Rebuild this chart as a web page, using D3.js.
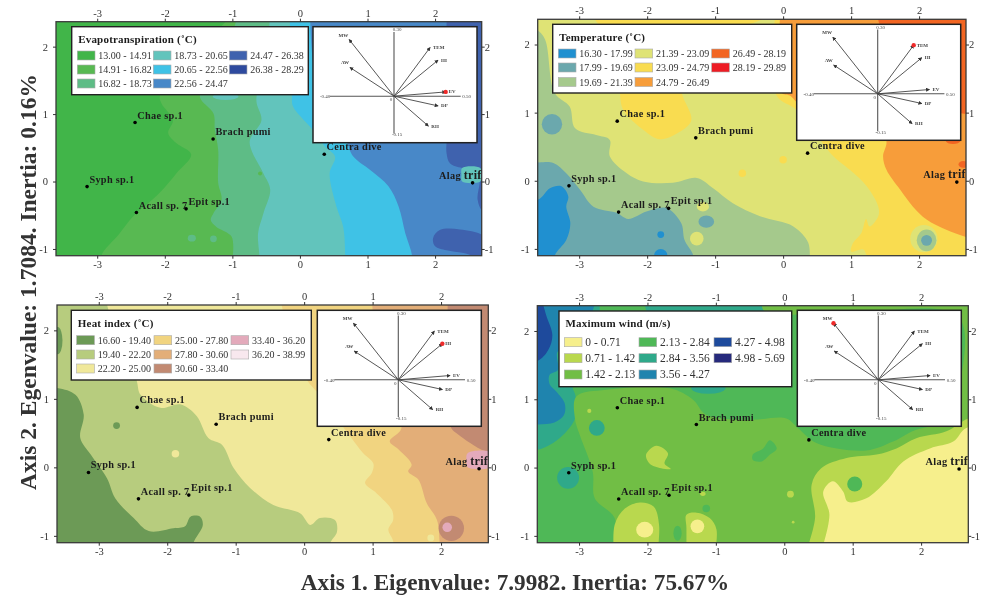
<!DOCTYPE html>
<html><head><meta charset="utf-8">
<script src="https://cdn.jsdelivr.net/npm/d3@7/dist/d3.min.js"></script>
<style>
html,body{margin:0;padding:0;background:#fff}
svg{display:block;filter:blur(.3px)}
text{font-family:"Liberation Serif",serif}
</style></head><body>
<svg id="c" width="981" height="596"></svg>
<script>
// ---------- shared data ----------
const xTicks = [-3,-2,-1,0,1,2];
const yTicks = [-1,0,1,2];
const xExtent = [-3.61,2.69];
const yExtent = [-1.1,2.37];
const speciesNames = ["Chae sp.1","Brach pumi","Centra dive","Syph sp.1","Acall sp. 7","Epit sp.1","Alag trif"];
const speciesAxis1 = [-2.44,-1.285,0.36,-3.15,-2.42,-1.685,2.555];
const speciesAxis2 = [0.875,0.63,0.405,-0.075,-0.46,-0.405,-0.02];
const vectorNames = ["MW","AW","TEM","HI","EV","DP","RH"];
const vectorAxis1 = [-0.28,-0.275,0.27,0.33,0.3875,0.33,0.2575];
const vectorAxis2 = [0.264,0.134,0.227,0.168,0.02,-0.039,-0.12];

// ---------- evapotranspiration ----------
const evapClasses = ["13.00 - 14.91","14.91 - 16.82","16.82 - 18.73","18.73 - 20.65","20.65 - 22.56","22.56 - 24.47","24.47 - 26.38","26.38 - 28.29"];
const evapColors = ["#41b549","#58b952","#5ebc86","#62c4bc","#3fc2e6","#4888c8","#3f62ae","#2e4a9e"];
const evapRegions = [
 [1,[[-2.94,-1.3],[-2.94,-1.1],[-2.67,-.77],[-2.47,-.52],[-2.08,-.17],[-1.83,.12],[-1.61,.4],[-1.83,.57],[-1.95,.72],[-1.88,.91],[-2.05,1.16],[-2.07,1.28],[-1.5,1.95],[-.97,2.5],[3.2,2.6],[3.2,-1.3]]],
 [2,[[-1,-1.3],[-1,-1.16],[-1.01,-.82],[-1.24,-.67],[-1.32,-.57],[-1.28,-.47],[-1.16,-.27],[-1.21,-.02],[-1.21,.47],[-1.26,.77],[-1.28,1.01],[-1.46,1.21],[-1.48,1.28],[-1.09,1.95],[-.91,2.5],[3.2,2.6],[3.2,-1.3]]],
 [3,[[-.6,-1.3],[-.6,-1.1],[-.62,-.77],[-.54,-.47],[-.44,-.12],[-.54,.12],[-.72,.47],[-.74,.62],[-.57,.91],[-.64,1.16],[-.64,1.28],[-.49,1.95],[-.44,2.5],[3.2,2.6],[3.2,-1.3]]],
 [4,[[.67,-1.3],[.67,-1.1],[.64,-.67],[.54,-.37],[.44,.12],[.52,.37],[.37,.52],[.17,.79],[-.1,1.11],[-.12,1.28],[-.14,1.9],[-.15,2.5],[3.2,2.6],[3.2,-1.3]]],
 [5,[[1.66,-1.3],[1.66,-1.1],[1.56,-.77],[1.46,-.37],[1.31,-.07],[1.04,.17],[.79,.37],[.69,.59],[.25,1.46],[.15,2.5],[3.2,2.6],[3.2,-1.3]]],
 [6,[[2.17,2.6],[2.17,.62],[2.17,.42],[2.22,.27],[2.4,.2],[2.66,.19],[2.66,-.02],[2.63,-.27],[2.72,-.45],[3.2,-.45],[3.2,2.6]]],
 [6,[[1.97,-.84],[2.07,-.72],[2.37,-.71],[2.72,-.81],[2.74,-.95],[2.72,-1.12],[2.42,-1.06],[2.17,-1.02],[2,-.96]]],
 [3,[[2.4,.2],[2.67,.2],[2.68,.1],[2.67,0],[2.4,0],[2.39,.1]]]
];
const evapSpots = [[3,-1.1,1.26,.19,.05],[1,-.59,.12,.03,.03],[2,-1.6,-.84,.06,.05],[2,-1.28,-.85,.05,.05]];

// ---------- temperature ----------
const tempClasses = ["16.30 - 17.99","17.99 - 19.69","19.69 - 21.39","21.39 - 23.09","23.09 - 24.79","24.79 - 26.49","26.49 - 28.19","28.19 - 29.89"];
const tempColors = ["#2090d0","#6ba8ad","#a5c98c","#dfe375","#f9dc50","#f79d3a","#f26522","#ed1c24"];
const tempRegions = [
 [2,[[-3.8,2.3],[-3.61,2.21],[-3.5,2.07],[-3.36,1.29],[-3.14,1.09],[-3.06,.77],[-2.75,.67],[-2.55,.6],[-2.55,.36],[-2.3,.11],[-2.06,-.01],[-1.62,-.03],[-1.27,.04],[-1.03,-.11],[-.74,-.33],[-.34,-.52],[.15,-.67],[.37,-.91],[.39,-1.16],[.39,-1.4],[-4.2,-1.4]]],
 [1,[[-4.2,.27],[-3.61,.27],[-3.38,.26],[-3.19,.11],[-2.99,-.13],[-2.79,-.38],[-2.45,-.47],[-2.28,-.56],[-2.01,-.45],[-1.72,-.4],[-1.5,-.62],[-1.45,-.87],[-1.32,-1.1],[-1.3,-1.4],[-4.2,-1.4]]],
 [0,[[-4.2,-.28],[-3.61,-.28],[-3.43,-.11],[-3.26,-.08],[-3.16,-.23],[-3.19,-.38],[-3.13,-.62],[-3.19,-.87],[-3.36,-1.1],[-3.4,-1.4],[-4.2,-1.4]]],
 [4,[[-2.4,1.6],[-2.4,1.29],[-2.35,1.04],[-2.06,.75],[-1.81,.61],[-1.52,.72],[-1.35,.89],[-1.49,1.29],[-1.5,1.6]]],
 [4,[[-2.84,2.6],[-2.72,2.31],[-2,2.3],[-.5,2.3],[.1,2.6]]],
 [4,[[-.1,2.6],[-.1,1.26],[.2,1.04],[.74,.36],[.98,.16],[1.23,-.08],[1.4,-.38],[1.4,-.52],[1.27,-.67],[1.22,-.56],[1.15,-.77],[1.03,-.91],[1,-1.04],[1.18,-1.01],[1.23,-1.1],[1.27,-1.16],[1.27,-1.4],[3.2,-1.4],[3.2,2.6]]],
 [5,[[-.03,2.6],[-.03,1.3],[.1,1.25],[.25,1.12],[1.3,1],[1.52,.58],[1.47,.36],[1.52,.16],[1.72,-.13],[1.91,-.38],[2.11,-.57],[2.4,-.72],[2.7,-.83],[3.2,-1],[3.2,2.6]]],
 [6,[[1.42,2.6],[1.42,2.3],[2,2],[2.5,1.1],[2.6,1],[3.2,1],[3.2,2.6]]]
];
const tempSpots = [[1,-3.4,.83,.15,.15],[0,-1.8,-.79,.05,.05],[0,-1.8,-1.1,.1,.1],[1,-1.13,-.6,.115,.09],[3,-1.27,-.85,.1,.1],[3,-1.18,-.38,.09,.07],[4,-.6,.11,.055,.055],[4,0,.31,.055,.055],[3,2.07,-.85,.2,.2],[2,2.11,-.875,.145,.16],[1,2.11,-.875,.08,.08],[6,2.5,.58,.1,.04],[6,2.65,.24,.07,.05]];

// ---------- heat index ----------
const heatClasses = ["16.60 - 19.40","19.40 - 22.20","22.20 - 25.00","25.00 - 27.80","27.80 - 30.60","30.60 - 33.40","33.40 - 36.20","36.20 - 38.99"];
const heatColors = ["#6c9a56","#b7cc7e","#f0e89a","#f1d480","#e3ae78","#c28a72","#e3aabb","#f8e8ee"];
const heatRegions = [
 [1,[[-2.88,2.6],[-2.88,2.38],[-2.45,1.28],[-2.39,1.06],[-2.1,.87],[-1.81,.92],[-1.57,.75],[-1.4,.43],[-1.2,.33],[-1.03,-.01],[-.79,-.3],[-.45,-.55],[-.06,-.67],[.09,-.84],[.23,-.74],[.45,-.77],[.48,-.94],[.38,-1.11],[.35,-1.4],[-4.2,-1.4],[-4.2,2.6]]],
 [0,[[-4.2,1.16],[-3.61,1.16],[-3.34,1.06],[-3.22,.77],[-3.27,.43],[-3.12,.19],[-2.88,-.16],[-2.76,-.45],[-2.49,-.74],[-2.27,-.93],[-1.91,-.89],[-1.74,-.86],[-1.66,-.72],[-1.52,-.72],[-1.48,-.84],[-1.62,-1.11],[-1.65,-1.4],[-4.2,-1.4]]],
 [3,[[-.33,2.6],[-.33,2.38],[.04,1.28],[.18,1.11],[.69,.43],[.86,.21],[1.01,.06],[.99,-.08],[.89,-.23],[1.06,-.38],[1.28,-.62],[1.3,-.77],[1.23,-.91],[1.3,-1.08],[1.3,-1.4],[3.2,-1.4],[3.2,2.6]]],
 [4,[[1,2.6],[1,2.3],[1.2,1.2],[1.42,.57],[1.25,.38],[1.38,.26],[1.57,.04],[1.52,-.06],[1.67,-.18],[1.79,-.52],[1.94,-.77],[1.98,-1.1],[2,-1.4],[3.2,-1.4],[3.2,2.6]]],
 [5,[[2.1,2.6],[2.1,1],[2.15,.57],[2.25,.48],[2.42,.36],[2.67,.23],[3.2,.2],[3.2,2.6]]],
 [6,[[2.39,.21],[2.72,.22],[2.73,.1],[2.72,0],[2.39,0],[2.37,.1]]]
];
const heatSpots = [[0,-3.6,1.85,.07,.2],[0,-2.74,.61,.05,.05],[2,-1.88,.2,.055,.055],[2,1.85,-1.03,.05,.05],[5,2.15,-.89,.185,.185],[6,2.09,-.875,.07,.07]];

// ---------- maximum wind ----------
const windClasses = ["0 - 0.71","0.71 - 1.42","1.42 - 2.13","2.13 - 2.84","2.84 - 3.56","3.56 - 4.27","4.27 - 4.98","4.98 - 5.69"];
const windColors = ["#f6ef8c","#b9d84e","#71be45","#4fb857","#2fa98a","#1f84ae","#1e4a9c","#262a7c"];
const windRegions = [
 [4,[[-4.2,.26],[-3.61,.26],[-3.43,.33],[-3.23,.48],[-3.06,.72],[-3.05,1.04],[-3.09,1.21],[-2.7,1.45],[-2.7,2.38],[-2.7,2.6],[-4.2,2.6]]],
 [5,[[-4.2,.63],[-3.61,.63],[-3.36,.66],[-3.22,.77],[-3.21,.94],[-3.33,1.11],[-3.43,1.22],[-3.43,1.36],[-3.31,1.43],[-3.31,1.7],[-3,1.75],[-2.8,2.3],[-2.7,2.6],[-4.2,2.6]]],
 [6,[[-3.55,2.6],[-3.55,2.48],[-3.48,2.23],[-3.39,1.94],[-3.45,1.72],[-3.61,1.56],[-4.2,1.5],[-4.2,2.6]]],
 [4,[[-2,2.6],[-2,2.28],[-.3,2.28],[-.3,2.6]]],
 [2,[[-2.48,-1.4],[-2.48,-1.23],[-2.48,-.74],[-2.77,-.45],[-2.8,-.06],[-2.99,.48],[-3.06,.72],[-3.04,1.04],[-2.6,1.14],[-1.67,1.16],[-1.33,.99],[-1.14,.77],[-.5,.7],[.03,.72],[.2,.58],[.47,.36],[1.2,.25],[1.59,.38],[1.98,.57],[3.2,.67],[3.2,-1.4]]],
 [2,[[-.3,2.6],[-.3,2.3],[1,2.28],[2.55,2.2],[2.55,1],[2.55,.6],[3.2,.6],[3.2,2.6]]],
 [1,[[.32,-1.4],[.32,-1.23],[.45,-.74],[.4,-.25],[.54,-.01],[.91,.14],[1.35,.19],[1.64,.28],[1.93,.43],[2.37,.53],[2.69,.72],[3.2,.82],[3.2,-1.4]]],
 [0,[[.54,-1.4],[.54,-1.23],[.66,-.69],[.57,-.35],[.71,-.2],[.86,-.35],[.93,-.5],[1.2,-.45],[1.49,-.2],[1.74,.09],[2.13,.28],[2.47,.38],[2.66,.58],[3.2,.62],[3.2,-1.4]]],
 [1,[[-2.48,-1.4],[-2.48,-.84],[-2.33,-.6],[-2.11,-.51],[-1.91,-.57],[-1.83,-.84],[-1.87,-1.4]]],
 [1,[[-1.43,-1.4],[-1.43,-.89],[-1.43,-.69],[-1.28,-.66],[-1.09,-.74],[-.99,-.91],[-1.04,-1.4]]],
 [1,[[-2.02,.19],[-1.87,.32],[-1.7,.21],[-1.75,.06],[-1.66,-.02],[-1.8,-.01],[-1.97,.06]]],
 [3,[[-.46,.19],[-.31,.28],[-.21,.4],[-.11,.28],[-.21,.19],[-.33,.09],[-.46,.11]]]
];
const windSpots = [[3,1.03,-.24,.11,.11],[0,-2.04,-.91,.125,.115],[0,-1.27,-.86,.1,.1],[3,-1.56,-.96,.06,.11],[3,-1.14,-.6,.055,.055],[1,.09,-.39,.05,.05],[1,.13,-.8,.02,.02],[1,-2.85,.83,.03,.03],[1,-1.19,-.385,.04,.03],[4,-2.74,.58,.115,.115],[4,-3.16,-.15,.16,.16],[4,-1.11,1.16,.25,.08]];

// ---------- drawing ----------
const svg = d3.select("#c");
const defs = svg.append("defs");
defs.append("marker").attr("id","arr").attr("viewBox","0 0 6 6").attr("refX",5).attr("refY",3)
  .attr("markerWidth",4).attr("markerHeight",4).attr("markerUnits","userSpaceOnUse").attr("orient","auto")
  .append("path").attr("d","M0,0L6,3L0,6Z").attr("fill","#333");

const isOff = p => p[0]<-3.62 || p[0]>2.9 || p[1]<-1.12 || p[1]>2.47;

function regionPath(pts,x,y){
  const coords = d3.line().x(d=>x(d[0])).y(d=>y(d[1]));
  const start = pts.findIndex(isOff);
  if(start<0) return coords.curve(d3.curveCatmullRomClosed.alpha(.5))(pts);
  const ring = pts.slice(start).concat(pts.slice(0,start));
  ring.push(ring[0]);
  const open = coords.curve(d3.curveCatmullRom.alpha(.5));
  let dStr = `M${x(ring[0][0])},${y(ring[0][1])}`;
  let i = 0;
  while(i<ring.length-1){
    if(isOff(ring[i+1])){ dStr += `L${x(ring[i+1][0])},${y(ring[i+1][1])}`; i++; continue; }
    let j=i+1;
    while(!isOff(ring[j])) j++;
    dStr += "L"+open(ring.slice(i,j+1)).slice(1);
    i=j;
  }
  return dStr+"Z";
}

function panel(cfg,i){
  const x = d3.scaleLinear().domain(xExtent).range([cfg.plot[0],cfg.plot[1]]);
  const y = d3.scaleLinear().domain(yExtent).range([cfg.plot[3],cfg.plot[2]]);
  const w = cfg.plot[1]-cfg.plot[0], h = cfg.plot[3]-cfg.plot[2];
  defs.append("clipPath").attr("id","clip"+i).append("rect")
    .attr("x",cfg.plot[0]).attr("y",cfg.plot[2]).attr("width",w).attr("height",h);
  const g = svg.append("g");
  const map = g.append("g").attr("clip-path",`url(#clip${i})`);
  map.append("rect").attr("x",cfg.plot[0]).attr("y",cfg.plot[2]).attr("width",w).attr("height",h).attr("fill",cfg.colors[cfg.base]);
  map.selectAll("path.r").data(cfg.regions).join("path").attr("class","r")
    .attr("d",d=>regionPath(d[1],x,y)).attr("fill",d=>cfg.colors[d[0]]);
  map.selectAll("ellipse").data(cfg.spots).join("ellipse")
    .attr("cx",d=>x(d[1])).attr("cy",d=>y(d[2]))
    .attr("rx",d=>x(d[1]+d[3])-x(d[1])).attr("ry",d=>y(d[2])-y(d[2]+d[4]))
    .attr("fill",d=>cfg.colors[d[0]]);
  // frame + axes
  g.append("rect").attr("x",cfg.plot[0]).attr("y",cfg.plot[2]).attr("width",w).attr("height",h)
    .attr("fill","none").attr("stroke","#3a3a3a").attr("stroke-width",1.3);
  const fmt = v => String(v);
  const axes = [
    [d3.axisTop(x).tickValues(xTicks),`translate(0,${cfg.plot[2]})`,2],
    [d3.axisBottom(x).tickValues(xTicks),`translate(0,${cfg.plot[3]})`,2],
    [d3.axisLeft(y).tickValues(yTicks),`translate(${cfg.plot[0]},0)`,5],
    [d3.axisRight(y).tickValues(yTicks),`translate(${cfg.plot[1]},0)`,0]
  ];
  axes.forEach(([a,t,pad])=>{
    const ag = g.append("g").attr("transform",t).call(a.tickFormat(fmt).tickSize(3).tickPadding(pad));
    ag.select(".domain").remove();
    ag.selectAll("line").attr("stroke","#333");
    ag.selectAll("text").attr("fill","#333").style("font-size","10.5px").style("font-family",'"Liberation Serif",serif');
  });
  // species
  speciesNames.forEach((n,k)=>{
    const px=x(speciesAxis1[k]), py=y(speciesAxis2[k]);
    g.append("circle").attr("cx",px).attr("cy",py).attr("r",1.8).attr("fill","#000");
    const last = n==="Alag trif";
    const t = g.append("text").attr("x",last?px-33.5:px+2.3).attr("y",py-4)
      .attr("font-weight","bold").attr("font-size",10.3).attr("letter-spacing",.3).attr("fill","#1c1c1c");
    if(last){ t.append("tspan").text("Alag "); t.append("tspan").attr("font-size",12).text("trif"); }
    else t.text(n);
  });
  // legend
  const L=cfg.legend;
  g.append("rect").attr("x",L.box[0]).attr("y",L.box[1]).attr("width",L.box[2]-L.box[0]).attr("height",L.box[3]-L.box[1])
    .attr("fill","#fff").attr("stroke","#222").attr("stroke-width",1.4);
  g.append("text").attr("x",L.box[0]+6.5).attr("y",L.box[1]+16.2).attr("font-weight","bold")
    .attr("font-size",L.title).attr("letter-spacing",.2).attr("fill","#1c1c1c").text(cfg.title);
  cfg.classes.forEach((c,k)=>{
    const col=Math.floor(k/3), row=k%3;
    const sx=L.cols[col], sy=L.rows[row];
    g.append("rect").attr("x",sx).attr("y",sy).attr("width",17.7).attr("height",9)
      .attr("fill",cfg.colors[k]).attr("stroke","#aaa").attr("stroke-width",.6);
    g.append("text").attr("x",sx+21).attr("y",sy+8.3).attr("font-size",L.font).attr("fill","#333").text(c);
  });
  // inset biplot
  const [ix,iy]=cfg.inset;
  const bw=164,bh=116,cx=ix+81,cy=iy+69.5;
  g.append("rect").attr("x",ix).attr("y",iy).attr("width",bw).attr("height",bh)
    .attr("fill","#fff").attr("stroke","#222").attr("stroke-width",1.5);
  const ux=d3.scaleLinear().domain([-.4,0,.5]).range([cx-64,cx,cx+66.7]);
  const uy=d3.scaleLinear().domain([-.15,0,.3]).range([cy+37.3,cy,cy-64.3]);
  g.append("line").attr("x1",ux(-.4)).attr("x2",ux(.5)).attr("y1",cy).attr("y2",cy).attr("stroke","#555").attr("stroke-width",1.1);
  g.append("line").attr("x1",cx).attr("x2",cx).attr("y1",uy(-.15)).attr("y2",uy(.3)).attr("stroke","#555").attr("stroke-width",1.1);
  const small=(tx,ty,s,anchor)=>g.append("text").attr("x",tx).attr("y",ty).attr("font-size",5).attr("fill","#444")
     .attr("text-anchor",anchor||"middle").text(s);
  small(ux(-.4)-5,cy+1.7,"-0.40");
  small(ux(.5)+6,cy+1.7,"0.50");
  small(cx+3,uy(.3)-0.5,"0.30");
  small(cx+3,uy(-.15)+2.5,"-0.15");
  small(cx-3,cy+5,"0");
  vectorNames.forEach((n,k)=>{
    const tx=ux(vectorAxis1[k]), ty=uy(vectorAxis2[k]);
    g.append("line").attr("x1",cx).attr("y1",cy).attr("x2",tx).attr("y2",ty)
      .attr("stroke","#444").attr("stroke-width",.9).attr("marker-end","url(#arr)");
    if(n===cfg.highlight) g.append("circle").attr("cx",tx).attr("cy",ty).attr("r",2.2).attr("fill","#ee2a2a");
    const left = vectorAxis1[k]<0;
    g.append("text").attr("x",left?tx-1:tx+3).attr("y",left?ty-3:ty+1.5)
      .attr("text-anchor",left?"end":"start").attr("font-size",5).attr("font-weight","bold").attr("fill","#444").text(n);
  });
}

panel({title:"Evapotranspiration (˚C)",classes:evapClasses,colors:evapColors,base:0,regions:evapRegions,spots:evapSpots,highlight:"EV",
  plot:[56,481.7,21.7,255.7],inset:[313,26.7],
  legend:{box:[71.7,26.7,308.3,94.7],cols:[77.3,153.3,229.3],rows:[51,65,79],font:10,title:11}},0);
panel({title:"Temperature (˚C)",classes:tempClasses,colors:tempColors,base:3,regions:tempRegions,spots:tempSpots,highlight:"TEM",
  plot:[537.7,966,19.3,255.7],inset:[796.7,24.3],
  legend:{box:[552.7,24.3,791.7,93],cols:[558.3,635,711.7],rows:[49,63,77.5],font:10,title:11}},1);
panel({title:"Heat index (˚C)",classes:heatClasses,colors:heatColors,base:2,regions:heatRegions,spots:heatSpots,highlight:"HI",
  plot:[57,488.3,305,542.7],inset:[317.3,310.3],
  legend:{box:[71.3,310.3,311.3,380],cols:[76.7,154,231],rows:[335.7,350,364],font:10,title:11}},2);
panel({title:"Maximum wind (m/s)",classes:windClasses,colors:windColors,base:3,regions:windRegions,spots:windSpots,highlight:"MW",
  plot:[537.3,968.3,305.7,542.7],inset:[797.3,310.3],
  legend:{box:[559,311,791.7,386.7],cols:[564.3,639,714],rows:[337.7,353.7,370],font:11.5,title:11}},3);

svg.append("text").attr("transform","translate(36,282) rotate(-90)").attr("text-anchor","middle")
  .attr("font-weight","bold").attr("font-size",23.5).attr("fill","#333").text("Axis 2. Egenvalue: 1.7084. Inertia: 0.16%");
svg.append("text").attr("x",515).attr("y",590).attr("text-anchor","middle")
  .attr("font-weight","bold").attr("font-size",23.2).attr("fill","#333").text("Axis 1. Eigenvalue: 7.9982. Inertia: 75.67%");
</script>
</body></html>
